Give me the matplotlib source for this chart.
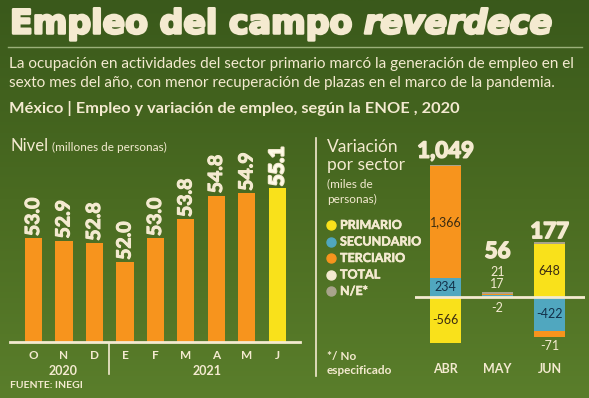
import matplotlib
matplotlib.use("Agg")
import matplotlib.pyplot as plt
import matplotlib.patheffects as pe
import numpy as np
from matplotlib.colors import LinearSegmentedColormap

W, H = 589, 398

# data
meses = ['O', 'N', 'D', 'E', 'F', 'M', 'A', 'M', 'J']
nivel = [53.0, 52.9, 52.8, 52.0, 53.0, 53.8, 54.8, 54.9, 55.1]

periodos = ['ABR', 'MAY', 'JUN']
primario = [-566, -2, 648]
secundario = [234, 21, -422]
terciario = [1366, 17, -71]
total = [1049, 56, 177]
no_esp = [15, 20, 22]

CREAM = '#f4ead0'
ORANGE = '#f7941d'
YELLOW = '#f9e11b'
BLUE = '#50a7bf'
GRAY = '#a9a48c'
DARK = '#3b2c12'
FONT = 'Lato'

plt.rcParams['font.family'] = [FONT, 'DejaVu Sans']

fig = plt.figure(figsize=(W / 100, H / 100), dpi=100)
renderer = fig.canvas.get_renderer()


def fit(t, width):
    # shrink/grow a text so it spans the given pixel width
    w = t.get_window_extent(renderer).width
    t.set_fontsize(t.get_fontsize() * width / w)


def heavy(lw):
    return [pe.withStroke(linewidth=lw, foreground=CREAM)]


# background (pixel canvas)
bg = fig.add_axes([0, 0, 1, 1], zorder=-1)
grad = np.linspace(0, 1, 200).reshape(-1, 1)
cmap = LinearSegmentedColormap.from_list('g', ['#3a591b', '#4a6b21', '#5a7e2b'])
bg.imshow(grad, cmap=cmap, extent=[0, W, H, 0], aspect='auto')
bg.set_xlim(0, W)
bg.set_ylim(H, 0)
bg.axis('off')

# title
t1 = bg.text(10, 24, 'Empleo del campo ', fontsize=27, weight='bold', color=CREAM,
             va='center', ha='left', family='DejaVu Sans', path_effects=heavy(1.8))
t2 = bg.text(0, 24, 'reverdece', fontsize=27, weight='bold', style='italic',
             color=CREAM, va='center', ha='left', family='DejaVu Sans',
             path_effects=heavy(1.8))
w1 = t1.get_window_extent(renderer).width
w2 = t2.get_window_extent(renderer).width
k = 542 / (w1 + w2)
t1.set_fontsize(27 * k)
t2.set_fontsize(27 * k)
t2.set_x(10 + w1 * k)
bg.plot([8, 582], [47, 47], color='#9bb07a', lw=1)

s1 = bg.text(9, 64, 'La ocupación en actividades del sector primario marcó la generación de empleo en el',
             fontsize=10.5, color=CREAM, va='center')
fit(s1, 571)
s2 = bg.text(9, 83, 'sexto mes del año, con menor recuperación de plazas en el marco de la pandemia.',
             fontsize=s1.get_fontsize(), color=CREAM, va='center')
s3 = bg.text(9, 108, 'México | Empleo y variación de empleo, según la ENOE , 2020',
             fontsize=10, weight='bold', color=CREAM, va='center')
fit(s3, 450)

# left chart
n1 = bg.text(10, 146, 'Nivel', fontsize=12, color=CREAM, va='center')
bg.text(10 + n1.get_window_extent(renderer).width + 4, 147, '(millones de personas)',
        fontsize=8.5, color=CREAM, va='center')

ax1 = fig.add_axes([10 / W, (H - 342) / H, 290 / W, 202 / H])
ax1.patch.set_alpha(0)
x = np.arange(len(meses))
colores = [ORANGE] * (len(meses) - 1) + [YELLOW]
ax1.bar(x, nivel, width=0.56, color=colores, bottom=0)
ax1.set_ylim(48.65, 48.65 + 202 / 23.8)
ax1.set_xlim(-0.77, 8.74)
for i, v in enumerate(nivel):
    last = i == len(nivel) - 1
    ax1.text(i, v + 0.1, f'{v:.1f}', rotation=90, ha='center', va='bottom',
             fontsize=14.5 if last else 14, weight='bold',
             color='#fffbe8' if last else CREAM,
             path_effects=heavy(1.6 if last else 0.8))
for s in ['top', 'right', 'left']:
    ax1.spines[s].set_visible(False)
ax1.spines['bottom'].set_color(CREAM)
ax1.spines['bottom'].set_linewidth(2)
ax1.set_xticks(x)
ax1.set_xticklabels(meses, fontsize=8.5, weight='bold', color=CREAM)
ax1.tick_params(length=0, pad=6, left=False, labelleft=False)

bg.plot([109, 109], [343, 374], color=CREAM, lw=1.2)
bg.text(63, 371, '2020', fontsize=9, weight='bold', color=CREAM, ha='center', va='center')
bg.text(207, 371, '2021', fontsize=9, weight='bold', color=CREAM, ha='center', va='center')
bg.text(10, 386, 'FUENTE: INEGI', fontsize=7.5, weight='bold', color=CREAM, va='center')

# divider
bg.plot([316, 316], [138, 376], color=CREAM, lw=1.2)

# right chart
bg.text(327, 147, 'Variación', fontsize=12.5, color=CREAM, va='center')
bg.text(327, 165, 'por sector', fontsize=12.5, color=CREAM, va='center')
bg.text(327, 184, '(miles de', fontsize=8.5, color=CREAM, va='center')
bg.text(327, 199, 'personas)', fontsize=8.5, color=CREAM, va='center')

ley = [('PRIMARIO', YELLOW), ('SECUNDARIO', BLUE), ('TERCIARIO', ORANGE),
       ('TOTAL', CREAM), ('N/E*', GRAY)]
for j, (nombre, c) in enumerate(ley):
    yy = 225 + j * 16.5
    bg.scatter([331], [yy], s=42, color=c, zorder=3)
    bg.text(340, yy, nombre, fontsize=9, weight='bold', color=CREAM, va='center',
            path_effects=heavy(0.4))
bg.text(327, 356, '*/ No', fontsize=8.5, weight='bold', color=CREAM, va='center')
bg.text(327, 371, 'especificado', fontsize=8.5, weight='bold', color=CREAM, va='center')

ppu = 0.0817
ax2 = fig.add_axes([415 / W, (H - 350) / H, 170 / W, 200 / H])
ax2.patch.set_alpha(0)
xp = np.arange(len(periodos))
bw = 0.6
prim = np.array(primario)
sec = np.array(secundario)
ter = np.array(terciario)
ne = np.array(no_esp)
pos_base = np.zeros(3)
neg_base = np.zeros(3)
for vals, c in [(prim, YELLOW), (sec, BLUE), (ter, ORANGE), (ne, GRAY)]:
    bottoms = np.where(vals >= 0, pos_base, neg_base)
    ax2.bar(xp, vals, width=bw, bottom=bottoms, color=c)
    pos_base = pos_base + np.where(vals >= 0, vals, 0)
    neg_base = neg_base + np.where(vals < 0, vals, 0)
ax2.axhline(0, color=CREAM, lw=2)
ax2.set_ylim(-(350 - 297) / ppu, (297 - 150) / ppu)
ax2.set_xlim(-0.587, 2.68)
ax2.axis('off')

# labels in bars
fs = 9
ax2.text(0, 917, f'{terciario[0]:,}', ha='center', va='center', fontsize=fs, color=DARK)
ax2.text(0, 117, f'{secundario[0]}', ha='center', va='center', fontsize=fs, color='#13314a')
ax2.text(0, -283, f'{primario[0]}', ha='center', va='center', fontsize=fs, color=DARK)
ax2.text(2, 324, f'{primario[2]}', ha='center', va='center', fontsize=fs, color=DARK)
ax2.text(2, -211, f'{secundario[2]}', ha='center', va='center', fontsize=fs, color='#13314a')
ax2.text(2, -600, f'{terciario[2]}', ha='center', va='center', fontsize=fs, color=CREAM)
ax2.text(1, 312, f'{secundario[1]}', ha='center', va='center', fontsize=fs, color=CREAM)
ax2.text(1, 160, f'{terciario[1]}', ha='center', va='center', fontsize=fs, color=CREAM)
ax2.text(1, -135, f'{primario[1]}', ha='center', va='center', fontsize=fs, color=CREAM)

tops = pos_base
offs = [170, 500, 130]
for i, tv in enumerate(total):
    ax2.text(i, tops[i] + offs[i], f'{tv:,}', ha='center', va='center', fontsize=16,
             weight='bold', color=CREAM, path_effects=heavy(1.2))

for i, p in enumerate(periodos):
    bg.text(445.5 + 52 * i, 369, p, fontsize=9, weight='bold', color=CREAM,
            ha='center', va='center')

fig.savefig('out.png', dpi=100)
